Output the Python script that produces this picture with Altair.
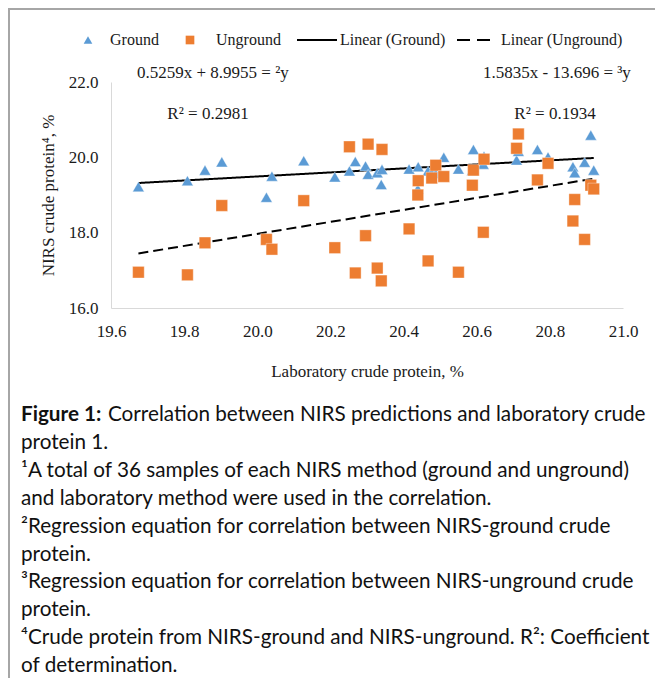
import altair as alt
import pandas as pd

# ---- data ----
lab = [19.675, 19.809, 19.857, 19.903, 20.025, 20.040, 20.127, 20.212, 20.252,
       20.268, 20.296, 20.303, 20.328, 20.339, 20.341, 20.415, 20.439, 20.440,
       20.467, 20.477, 20.488, 20.510, 20.550, 20.588, 20.591, 20.618, 20.620,
       20.709, 20.714, 20.766, 20.795, 20.863, 20.868, 20.895, 20.912, 20.920]
ground = [19.22, 19.38, 19.66, 19.88, 18.94, 19.50, 19.91, 19.48, 19.64,
          19.89, 19.77, 19.55, 19.59, 19.28, 19.68, 19.69, 19.16, 19.75,
          19.64, 19.60, 19.57, 20.00, 19.69, 19.65, 20.21, 19.82, 20.03,
          19.93, 20.16, 20.21, 20.01, 19.75, 19.59, 19.87, 20.59, 19.66]
unground = [16.95, 16.88, 17.73, 18.72, 17.82, 17.56, 18.85, 17.60, 20.28,
            16.93, 17.92, 20.35, 17.06, 16.72, 20.21, 18.10, 19.00, 19.38,
            17.25, 19.45, 19.79, 19.49, 16.95, 19.26, 19.66, 18.01, 19.95,
            20.24, 20.62, 19.40, 19.84, 18.31, 18.88, 17.82, 19.26, 19.16]
series = ["Ground", "Unground"]
x_ticks = [19.6, 19.8, 20.0, 20.2, 20.4, 20.6, 20.8, 21.0]
y_ticks = [16.0, 18.0, 20.0, 22.0]
eq_ground = "0.5259x + 8.9955 = \u00b2y"
r2_ground = "R\u00b2 = 0.2981"
eq_unground = "1.5835x - 13.696 = \u00b3y"
r2_unground = "R\u00b2 = 0.1934"
legend_labels = ["Ground", "Unground", "Linear (Ground)", "Linear (Unground)"]
caption_bold = "Figure 1:"
caption_lines = [
    "Correlation between NIRS predictions and laboratory crude",
    "protein 1.",
    "\u00b9A total of 36 samples of each NIRS method (ground and unground)",
    "and laboratory method were used in the correlation.",
    "\u00b2Regression equation for correlation between NIRS-ground crude",
    "protein.",
    "\u00b3Regression equation for correlation between NIRS-unground crude",
    "protein.",
    "\u2074Crude protein from NIRS-ground and NIRS-unground. R\u00b2: Coefficient",
    "of determination.",
]

BLUE = "#5B9BD5"
ORANGE = "#ED7D31"
SERIF = "Liberation Serif"
SANS = "Lato"
TXT = "#1a1a1a"

df = pd.DataFrame({
    "lab": lab * 2,
    "value": ground + unground,
    "series": [series[0]] * len(lab) + [series[1]] * len(lab),
})

W, H = 512, 226

xs = alt.Scale(domain=[19.6, 21.0], nice=False, zero=False)
ys = alt.Scale(domain=[16.0, 22.0], nice=False, zero=False)

base = alt.Chart(df)

points = base.mark_point(filled=True, opacity=1, size=135, stroke="white",
                         strokeWidth=0.6, strokeOpacity=0.6).encode(
    x=alt.X("lab:Q", scale=xs,
            axis=alt.Axis(values=x_ticks, format=".1f", title="Laboratory crude protein, %",
                          labelPadding=15, titlePadding=24, labelFlush=False)),
    y=alt.Y("value:Q", scale=ys,
            axis=alt.Axis(values=y_ticks, format=".1f", title="NIRS crude protein\u2074, %",
                          labelPadding=13, titlePadding=11, labelFlush=False)),
    color=alt.Color("series:N", scale=alt.Scale(domain=series, range=[BLUE, ORANGE]), legend=None),
    shape=alt.Shape("series:N", scale=alt.Scale(domain=series, range=["triangle-up", "square"]),
                    legend=None),
)

trend = base.transform_regression("lab", "value", groupby=["series"]).mark_line(
    color="black", strokeWidth=2).encode(
    x=alt.X("lab:Q", scale=xs),
    y=alt.Y("value:Q", scale=ys),
    strokeDash=alt.StrokeDash("series:N",
                              scale=alt.Scale(domain=series, range=[[1, 0], [10, 5]]),
                              legend=None),
)

one = alt.Data(values=[{}])


def txt(t, x, y, font=SERIF, size=17, align="left", weight="normal", color=TXT):
    return alt.Chart(one).mark_text(text=t, font=font, fontSize=size, align=align,
                                    baseline="middle", fontWeight=weight, color=color).encode(
        x=alt.value(x), y=alt.value(y))


# plot origin is at page (111, 82); offsets below are relative to it
layers = [trend, points]
layers += [
    txt(eq_ground, 26, -9),
    txt(r2_ground, 97, 32, align="center"),
    txt(eq_unground, 372, -9),
    txt(r2_unground, 444, 32, align="center"),
]

# legend
LY = -42
layers.append(alt.Chart(one).mark_point(shape="triangle-up", filled=True, opacity=1,
                                        size=75, color=BLUE).encode(
    x=alt.value(-23), y=alt.value(LY)))
layers.append(alt.Chart(one).mark_point(shape="square", filled=True, opacity=1,
                                        size=75, color=ORANGE).encode(
    x=alt.value(79), y=alt.value(LY)))
layers.append(alt.Chart(one).mark_rule(color="black", strokeWidth=2).encode(
    x=alt.value(186), x2=alt.value(226), y=alt.value(LY)))
layers.append(alt.Chart(one).mark_rule(color="black", strokeWidth=2, strokeDash=[13, 7]).encode(
    x=alt.value(346), x2=alt.value(379), y=alt.value(LY)))
lx = [-1, 105, 229, 390]
for lbl, px in zip(legend_labels, lx):
    layers.append(txt(lbl, px, LY, size=16))

# border (left and top)
layers.append(alt.Chart(one).mark_rule(color="#A6A6A6", strokeWidth=2).encode(
    x=alt.value(-102), y=alt.value(-73), y2=alt.value(610)))
layers.append(alt.Chart(one).mark_rule(color="#A6A6A6", strokeWidth=2).encode(
    x=alt.value(-103), x2=alt.value(560), y=alt.value(-73)))

# caption
CX = -90
CY0 = 333
DY = 27.9
CS = 20.7
layers.append(txt(caption_bold, CX, CY0, font=SANS, size=CS, weight="bold", color="#111"))
for i, line in enumerate(caption_lines):
    x0 = CX + 87 if i == 0 else CX
    layers.append(txt(line, x0, CY0 + i * DY, font=SANS, size=CS, color="#111"))

chart = alt.layer(*layers).properties(
    width=W, height=H,
    padding={"left": 103, "top": 74, "right": 32, "bottom": 370},
    autosize=alt.AutoSizeParams(type="none"),
    background="white",
).configure_view(stroke=None).configure_axis(
    grid=False, ticks=False, domainColor="#D9D9D9", domainWidth=1,
    labelFont=SERIF, labelFontSize=17, labelColor=TXT,
    titleFont=SERIF, titleFontSize=17, titleColor=TXT, titleFontWeight="normal",
)

chart.save("out.html", embed_options={"renderer": "svg", "actions": False})
